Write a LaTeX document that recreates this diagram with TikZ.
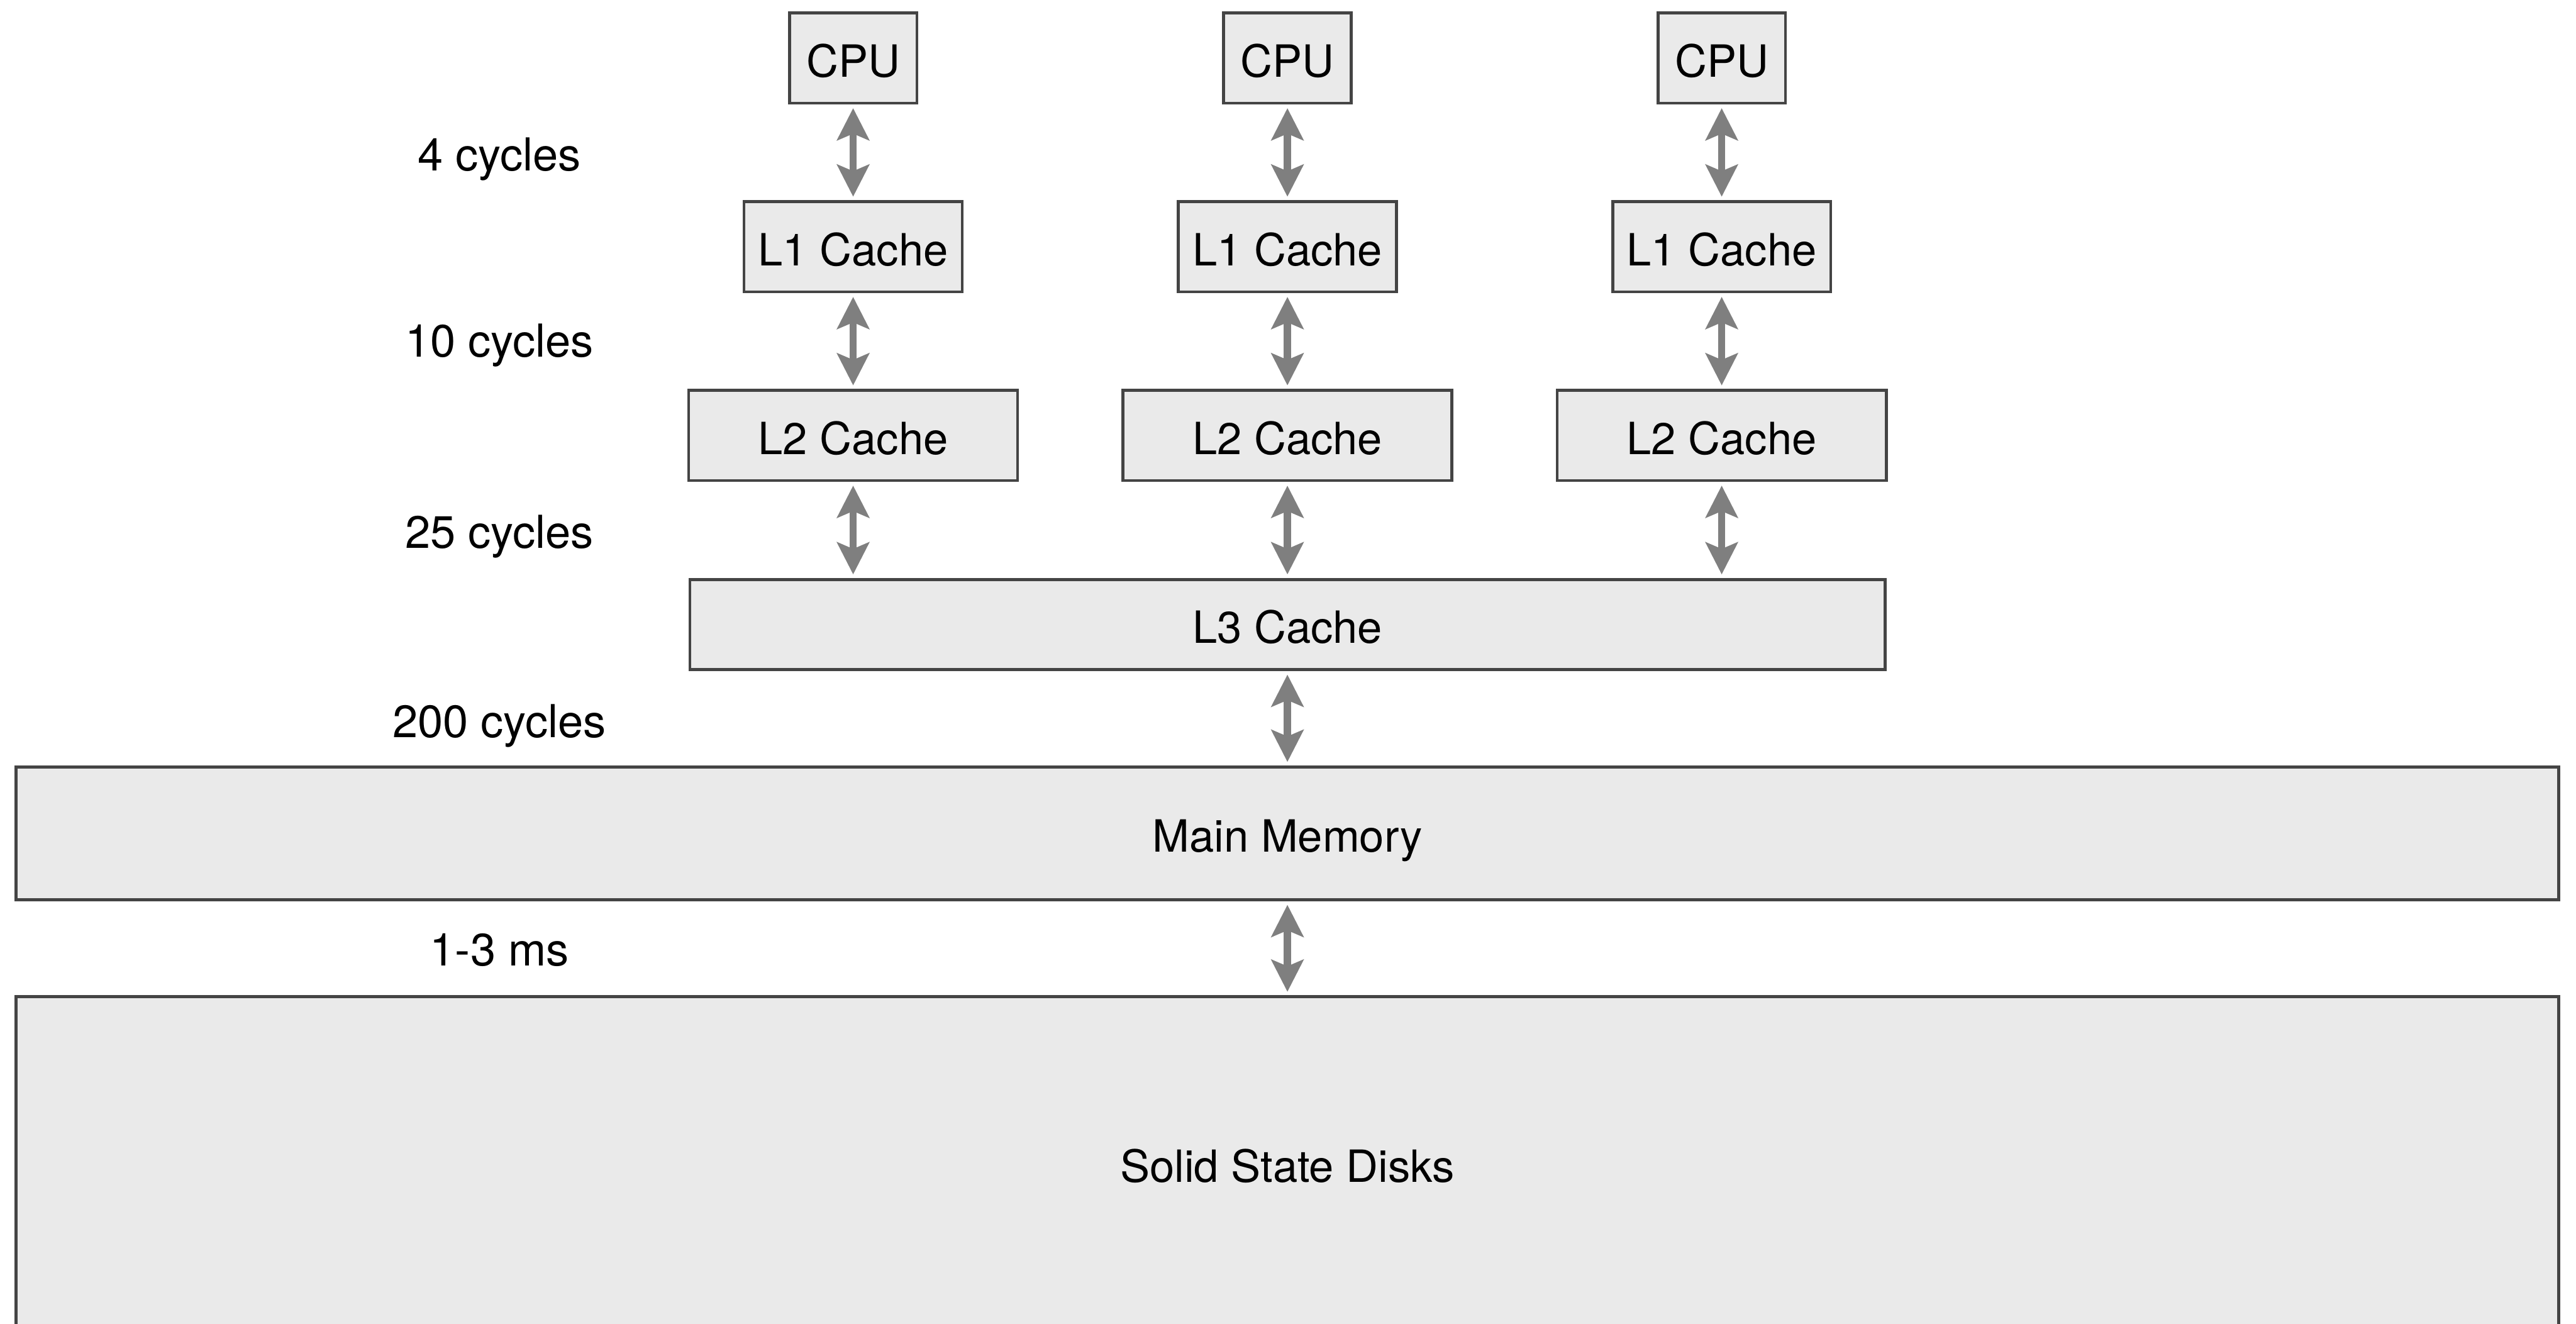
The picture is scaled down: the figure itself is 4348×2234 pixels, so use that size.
\documentclass[tikz,border=0pt]{standalone}
\usepackage{fontspec}
\setmainfont{TeX Gyre Heros}
\usetikzlibrary{arrows.meta}
\definecolor{boxfill}{HTML}{EAEAEA}
\definecolor{boxline}{HTML}{444444}
\definecolor{linkgray}{HTML}{7F7F7F}
\tikzset{
  unit/.style={draw=boxline, fill=boxfill, line width=0.05cm, inner sep=0pt,
    minimum height=1.52cm, text height=18pt, text depth=0pt,
    font=\fontsize{21.3}{25}\selectfont},
  link/.style={draw=linkgray, line width=0.12cm,
    >={Stealth[length=0.54cm,width=0.54cm,inset=0.11cm]}, <->,
    shorten >=0.06cm, shorten <=0.06cm},
  lat/.style={inner sep=0pt, font=\fontsize{21.8}{26}\selectfont}
}
\begin{document}
\begin{tikzpicture}[x=0.01cm, y=-0.01cm]
  \clip (0,0) rectangle (4348,2234);
  \fill[white] (0,0) rectangle (4348,2234);

  % one column per core: CPU, L1 and L2
  \foreach \c/\x in {A/1440, B/2173, C/2906} {
    \node[unit, minimum width=2.15cm] (cpu\c) at (\x,98) {CPU};
    \node[unit, minimum width=3.68cm] (lone\c) at (\x,416.5) {L1 Cache};
    \node[unit, minimum width=5.55cm] (ltwo\c) at (\x,735) {L2 Cache};
  }

  % shared levels
  \node[unit, minimum width=20.16cm] (lthree) at (2173,1054) {L3 Cache};
  \node[unit, minimum width=42.89cm, minimum height=2.24cm] (mem) at (2173,1406.5) {Main Memory};
  \node[unit, minimum width=42.89cm, minimum height=5.61cm] (ssd) at (2173,1963) {Solid State Disks};

  % links between levels
  \foreach \c in {A, B, C} {
    \draw[link] (cpu\c) -- (lone\c);
    \draw[link] (lone\c) -- (ltwo\c);
    \draw[link] (ltwo\c.south) -- (ltwo\c.south |- lthree.north);
  }
  \draw[link] (lthree.south) -- (lthree.south |- mem.north);
  \draw[link] (mem.south) -- (mem.south |- ssd.north);

  % access latencies
  \node[lat] (latA) at (843,269) {4 cycles};
  \node[lat] (latB) at (843,583) {10 cycles};
  \node[lat] (latC) at (843,906) {25 cycles};
  \node[lat] (latD) at (843,1225) {200 cycles};
  \node[lat] (latE) at (843,1603) {1-3 ms};
\end{tikzpicture}
\end{document}
